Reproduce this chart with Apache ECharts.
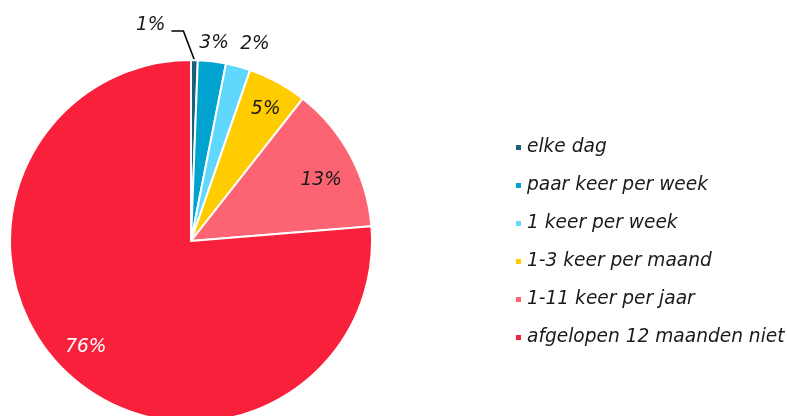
<!DOCTYPE html>
<html><head><meta charset="utf-8">
<style>html,body{margin:0;padding:0;background:#fff}#chart{width:787px;height:416px}</style>
<script src="https://cdn.jsdelivr.net/npm/echarts@6/dist/echarts.min.js"></script>
</head><body><div id="chart"></div>
<script>
const categories = ['elke dag', 'paar keer per week', '1 keer per week', '1-3 keer per maand', '1-11 keer per jaar', 'afgelopen 12 maanden niet'];
const values = [0.6, 2.5, 2.2, 5.3, 13.1, 76.3];
const colors = ['#19607a', '#00a2d0', '#60d8fe', '#ffcc00', '#fd6473', '#f8203a'];

const CX = 191, CY = 241, R = 181;
const FONT = '"DejaVu Sans", Verdana, sans-serif';
const FS = 18.6;
const leaderIdx = [0];
const outsideIdx = [1, 2];
const insideIdx = [3, 4, 5];
const labelColors = { 5: '#ffffff' };
const labelOffsets = { 2: [12, -5], 3: [4, -2], 4: [0, 9], 5: [-5, -3] };
const fmt = p => Math.round(p.percent) + '%';
const baseLabel = { fontFamily: FONT, fontStyle: 'italic', fontSize: FS, color: '#1a1a1a', formatter: fmt };

const chart = echarts.init(document.getElementById('chart'), null, { renderer: 'canvas' });

function overlay(radius, idxs) {
  return {
    type: 'pie', center: [CX, CY], radius: radius, startAngle: 90, clockwise: true,
    silent: true, animation: false, avoidLabelOverlap: false, legendHoverLink: false,
    emphasis: { disabled: true },
    itemStyle: { color: 'rgba(0,0,0,0)', borderWidth: 0 },
    labelLine: { show: false },
    data: categories.map((n, i) => ({
      name: n, value: values[i],
      label: Object.assign({}, baseLabel, {
        show: idxs.includes(i), position: 'inside',
        color: labelColors[i] || '#1a1a1a',
        offset: labelOffsets[i] || [0, 0]
      })
    }))
  };
}

const option = {
  animation: false,
  legend: {
    data: categories, orient: 'vertical', left: 509, top: 133,
    icon: 'rect', itemWidth: 7, itemHeight: 7, itemGap: 19,
    selectedMode: false,
    textStyle: { fontFamily: FONT, fontStyle: 'italic', fontSize: FS, lineHeight: 18, color: '#1a1a1a' }
  },
  series: [
    {
      type: 'pie', center: [CX, CY], radius: R, startAngle: 90, clockwise: true,
      avoidLabelOverlap: false, animation: false,
      itemStyle: { borderColor: '#ffffff', borderWidth: 2 },
      label: { show: false }, labelLine: { show: false },
      data: categories.map((n, i) => ({
        name: n, value: values[i], itemStyle: { color: colors[i] },
        label: leaderIdx.includes(i) ? Object.assign({}, baseLabel, { show: true, position: 'outside' }) : { show: false },
        labelLine: leaderIdx.includes(i) ? { show: true, length: 20, length2: 12, lineStyle: { color: '#000', width: 1.6 } } : { show: false }
      })),
      labelLayout: function (p) {
        if (!leaderIdx.includes(p.dataIndex)) return;
        let p0;
        if (p.labelLinePoints && p.labelLinePoints[0]) {
          p0 = [p.labelLinePoints[0][0], p.labelLinePoints[0][1]];
        } else {
          p0 = [p.rect.x + p.rect.width / 2, p.rect.y];
        }
        const p1 = [p0[0] - 11, p0[1] - 29];
        const p2 = [p1[0] - 12, p1[1]];
        return {
          x: p2[0] - 6, y: p2[1] - 6, align: 'right', verticalAlign: 'middle',
          labelLinePoints: [p0, p1, p2]
        };
      }
    },
    overlay([R * 0.6, R], insideIdx),
    overlay([R * 1.0, R * 1.165], outsideIdx)
  ]
};
chart.setOption(option);
</script>
</body></html>
